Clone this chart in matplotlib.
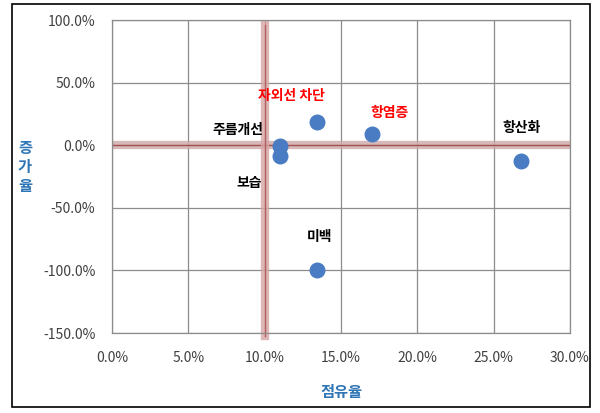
import matplotlib.pyplot as plt
from matplotlib.ticker import FuncFormatter

plt.rcParams['font.family'] = ['Noto Sans CJK KR', 'DejaVu Sans']

# share (%) vs growth (%)
names = ["주름개선", "보습", "자외선 차단", "항염증", "항산화", "미백"]
share = [11.0, 11.0, 13.4, 17.0, 26.8, 13.4]
growth = [-1.0, -9.0, 18.5, 9.0, -13.0, -100.0]
label_colors = ["black", "black", "red", "red", "black", "black"]
# label offsets in points (dx, dy)
label_offsets = [(-30, 12), (-22, -19), (-18, 19), (13, 15), (0, 24), (2, 24)]

fig = plt.figure(figsize=(6, 4.13), dpi=100)
ax = fig.add_axes([112/600, 80/413, 458/600, 313/413])

ax.set_xlim(0, 30)
ax.set_ylim(-150, 100)
ax.set_xticks(range(0, 31, 5))
ax.set_yticks(range(-150, 101, 50))
ax.grid(True, color="#8c8c8c", linewidth=0.9)
ax.set_axisbelow(True)
for s in ax.spines.values():
    s.set_color("#8c8c8c")
    s.set_linewidth(0.9)
ax.tick_params(axis="x", length=0, labelsize=10, colors="#404040", pad=13)
ax.tick_params(axis="y", length=0, labelsize=10, colors="#404040", pad=12)
ax.xaxis.set_major_formatter(FuncFormatter(lambda v, p: f"{v:.1f}%"))
ax.yaxis.set_major_formatter(FuncFormatter(lambda v, p: f"{v:.1f}%"))

# reference lines
ax.axhline(0, color="#cfa8a8", linewidth=6, alpha=0.8, zorder=1)
ax.axhline(0, color="#a05050", linewidth=1, zorder=1)
ax.plot([10, 10], [96, -152], color="#d8a4a4", linewidth=6, alpha=0.8, zorder=1, clip_on=False)
ax.plot([10, 10], [96, -152], color="#b06060", linewidth=1, zorder=1, clip_on=False)

ax.scatter(share, growth, s=110, color="#4a7cc4", zorder=3)

for n, x, y, c, off in zip(names, share, growth, label_colors, label_offsets):
    ax.annotate(n, (x, y), xytext=off, textcoords="offset points",
                ha="center", va="center", color=c, fontsize=10, fontweight="bold")

ax.set_xlabel("점유율", color="#2e75b6", fontsize=11, fontweight="bold", labelpad=14)
fig.text(25/600, 1 - 167/413, "증\n가\n율", color="#2e75b6", fontsize=11,
         fontweight="bold", ha="center", va="center", linespacing=1.25)

fig.patches.append(plt.Rectangle((12/600, 6/413), 578/600, 403/413, transform=fig.transFigure,
                                 fill=False, edgecolor="black", linewidth=1.2))

fig.savefig("out.png", dpi=100)
